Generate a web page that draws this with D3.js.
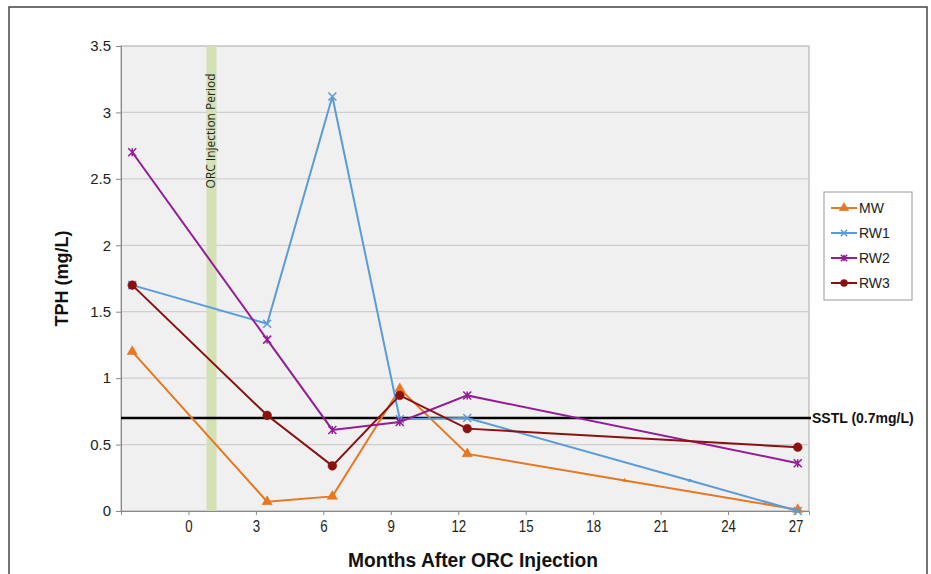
<!DOCTYPE html>
<html>
<head>
<meta charset="utf-8">
<script src="https://cdn.jsdelivr.net/npm/d3@7"></script>
<style>
body { margin: 0; background: #fff; }
</style>
</head>
<body>
<div id="chart"></div>
<script>
// data
var seriesNames = ['MW', 'RW1', 'RW2', 'RW3']
var mwMonths  = [-2.5, 3.5, 6.4, 9.4, 12.4, 19.4, 27.1]
var mwTPH     = [1.2, 0.07, 0.11, 0.92, 0.43, 0.23, 0.01]
var rw1Months = [-2.5, 3.5, 6.4, 9.4, 12.4, 22.3, 27.1]
var rw1TPH    = [1.7, 1.41, 3.12, 0.69, 0.7, 0.23, 0]
var rw2Months = [-2.5, 3.5, 6.4, 9.4, 12.4, 27.1]
var rw2TPH    = [2.7, 1.29, 0.61, 0.67, 0.87, 0.36]
var rw3Months = [-2.5, 3.5, 6.4, 9.4, 12.4, 27.1]
var rw3TPH    = [1.7, 0.72, 0.34, 0.87, 0.62, 0.48]
var xTicks = [-3, 0, 3, 6, 9, 12, 15, 18, 21, 24, 27]
var yTicks = [0, 0.5, 1, 1.5, 2, 2.5, 3, 3.5]
var injectionPeriod = [0.8, 1.25]
var sstl = 0.7

var w = 931
var h = 574
var plotLeft = 121, plotRight = 809, plotTop = 46, plotBottom = 511

var colors = { MW: '#e8771f', RW1: '#5b9bd8', RW2: '#951c99', RW3: '#8c1010' }

var series = [
	{ name: 'MW',  x: mwMonths,  y: mwTPH },
	{ name: 'RW1', x: rw1Months, y: rw1TPH },
	{ name: 'RW2', x: rw2Months, y: rw2TPH },
	{ name: 'RW3', x: rw3Months, y: rw3TPH }
].map(function(s) {
	return { name: s.name, points: s.x.map((m, i) => ({ m: m, v: s.y[i] })) }
})

var svg = d3.select('#chart')
	.append('svg')
	.attr('width', w)
	.attr('height', h)
	.style('font-family', 'Arial, "Liberation Sans", sans-serif')

// outer frame
svg.append('path')
	.attr('d', 'M9,' + h + 'V7H927V' + h)
	.attr('fill', 'none')
	.attr('stroke', '#444')
	.attr('stroke-width', 1.5)

var xScale = d3.scaleLinear().domain([-3, 27.6]).range([plotLeft, plotRight])
var yScale = d3.scaleLinear().domain([0, 3.5]).range([plotBottom, plotTop])

// plot area
svg.append('rect')
	.attr('x', plotLeft).attr('y', plotTop)
	.attr('width', plotRight - plotLeft).attr('height', plotBottom - plotTop)
	.attr('fill', '#f0f0f0')
	.attr('stroke', '#a8a8a8')

// grid
svg.append('g')
	.selectAll('line')
	.data(yTicks.slice(1))
	.enter()
	.append('line')
	.attr('x1', plotLeft).attr('x2', plotRight)
	.attr('y1', d => yScale(d)).attr('y2', d => yScale(d))
	.attr('stroke', '#cfcfcf')
	.attr('stroke-width', 1.2)

// injection period band
svg.append('rect')
	.attr('x', xScale(injectionPeriod[0]))
	.attr('width', xScale(injectionPeriod[1]) - xScale(injectionPeriod[0]))
	.attr('y', plotTop).attr('height', plotBottom - plotTop)
	.attr('fill', '#d3e2b6')

svg.append('text')
	.attr('transform', 'translate(' + (xScale((injectionPeriod[0] + injectionPeriod[1]) / 2) + 4) + ',131) rotate(-90)')
	.attr('text-anchor', 'middle')
	.attr('font-family', '"Open Sans", "DejaVu Sans", sans-serif')
	.attr('font-size', 12)
	.attr('fill', '#222')
	.text('ORC Injection Period')

// axes
var yAxis = d3.axisLeft(yScale).tickValues(yTicks).tickSize(5).tickFormat(d3.format(''))
var yAxisGroup = svg.append('g')
	.attr('transform', 'translate(' + plotLeft + ',0)')
	.call(yAxis)
yAxisGroup.select('.domain').attr('stroke', '#888')
yAxisGroup.selectAll('.tick line').attr('stroke', '#888')
yAxisGroup.selectAll('.tick text')
	.attr('font-family', 'Arial, "Liberation Sans", sans-serif')
	.attr('font-size', 15)
	.attr('fill', '#222')
	.attr('x', -10)

var xAxis = d3.axisBottom(xScale).tickValues(xTicks).tickSize(4)
	.tickFormat(d => d < 0 ? '' : d)
var xAxisGroup = svg.append('g')
	.attr('transform', 'translate(0,' + plotBottom + ')')
	.call(xAxis)
xAxisGroup.select('.domain').attr('stroke', '#888')
xAxisGroup.selectAll('.tick line').attr('stroke', '#888')
xAxisGroup.selectAll('.tick text')
	.attr('font-family', 'Arial, "Liberation Sans", sans-serif')
	.attr('font-size', 17)
	.attr('fill', '#222')
	.attr('y', 9)
	.attr('transform', 'scale(0.78,1)')

// SSTL line
svg.append('line')
	.attr('x1', plotLeft).attr('x2', plotRight + 2)
	.attr('y1', yScale(sstl)).attr('y2', yScale(sstl))
	.attr('stroke', '#000')
	.attr('stroke-width', 2.5)

svg.append('text')
	.attr('x', plotRight + 3)
	.attr('y', yScale(sstl) + 5)
	.attr('font-size', 14)
	.attr('font-weight', 'bold')
	.attr('fill', '#111')
	.text('SSTL (0.7mg/L)')

// series
var line = d3.line().x(d => xScale(d.m)).y(d => yScale(d.v))

var asterisk = {
	draw: function(ctx, size) {
		var r = Math.sqrt(size) / 2
		ctx.moveTo(-r, -r); ctx.lineTo(r, r)
		ctx.moveTo(r, -r); ctx.lineTo(-r, r)
		ctx.moveTo(0, -r); ctx.lineTo(0, r)
	}
}
var cross = {
	draw: function(ctx, size) {
		var r = Math.sqrt(size) / 2
		ctx.moveTo(-r, -r); ctx.lineTo(r, r)
		ctx.moveTo(r, -r); ctx.lineTo(-r, r)
	}
}
var markers = {
	MW:  { type: d3.symbolTriangle, size: 45, filled: true },
	RW1: { type: cross, size: 64, filled: false },
	RW2: { type: asterisk, size: 64, filled: false },
	RW3: { type: d3.symbolCircle, size: 60, filled: true }
}

function drawMarker(sel, name, size) {
	var mk = markers[name]
	sel.attr('d', d3.symbol().type(mk.type).size(size || mk.size))
		.attr('fill', mk.filled ? colors[name] : 'none')
		.attr('stroke', colors[name])
		.attr('stroke-width', mk.filled ? 0.5 : 1.5)
}

var seriesGroups = svg.selectAll('g.series')
	.data(series)
	.enter()
	.append('g')
	.attr('class', 'series')

seriesGroups.append('path')
	.attr('d', d => line(d.points))
	.attr('fill', 'none')
	.attr('stroke', d => colors[d.name])
	.attr('stroke-width', 2)

seriesGroups.each(function(s) {
	d3.select(this).selectAll('path.marker')
		.data(s.points)
		.enter()
		.append('path')
		.attr('class', 'marker')
		.attr('transform', d => 'translate(' + xScale(d.m) + ',' + yScale(d.v) + ')')
		.each(function(d) {
			// the in-between points show only a tiny mark
			drawMarker(d3.select(this), s.name, d.m > 15 && d.m < 27 ? 6 : null)
		})
})

// legend
var legend = svg.append('g')
legend.append('rect')
	.attr('x', 824).attr('y', 192)
	.attr('width', 88).attr('height', 108)
	.attr('fill', '#fff')
	.attr('stroke', '#999')

var items = legend.selectAll('g.item')
	.data(seriesNames)
	.enter()
	.append('g')
	.attr('class', 'item')
	.attr('transform', (d, i) => 'translate(0,' + (208 + i * 25) + ')')

items.append('line')
	.attr('x1', 831).attr('x2', 857)
	.attr('stroke', d => colors[d])
	.attr('stroke-width', 2)

items.append('path')
	.attr('transform', 'translate(844,0)')
	.each(function(d) { drawMarker(d3.select(this), d, 40) })

items.append('text')
	.attr('x', 859).attr('y', 5)
	.attr('font-size', 14)
	.attr('fill', '#222')
	.text(d => d)

// axis titles
svg.append('text')
	.attr('transform', 'translate(68,' + ((plotTop + plotBottom) / 2) + ') rotate(-90)')
	.attr('text-anchor', 'middle')
	.attr('font-size', 18)
	.attr('font-weight', 'bold')
	.attr('fill', '#111')
	.text('TPH (mg/L)')

svg.append('text')
	.attr('x', 473).attr('y', 567)
	.attr('text-anchor', 'middle')
	.attr('font-size', 20)
	.attr('font-weight', 'bold')
	.attr('fill', '#111')
	.attr('textLength', 250)
	.attr('lengthAdjust', 'spacingAndGlyphs')
	.text('Months After ORC Injection')
</script>
</body>
</html>
